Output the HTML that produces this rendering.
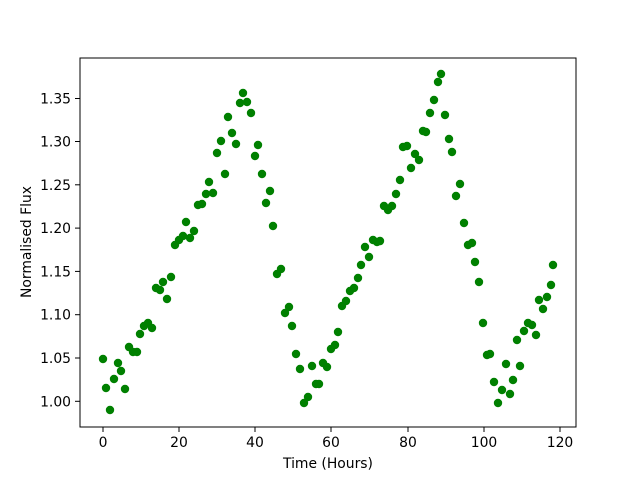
<!DOCTYPE html>
<html><head><meta charset="utf-8"><style>
html,body{margin:0;padding:0;background:#fff;}
svg text{font-family:"DejaVu Sans","Liberation Sans",sans-serif;font-size:13.9px;fill:#000;}
</style></head><body>
<svg width="640" height="480" viewBox="0 0 640 480" xmlns="http://www.w3.org/2000/svg">
<rect width="640" height="480" fill="#fff"/>
<g fill="#008000">
<circle cx="103" cy="359" r="4.2"/><circle cx="106" cy="388" r="4.2"/><circle cx="110" cy="410" r="4.2"/><circle cx="114" cy="379" r="4.2"/><circle cx="118" cy="363" r="4.2"/><circle cx="121" cy="371" r="4.2"/><circle cx="125" cy="389" r="4.2"/><circle cx="129" cy="347" r="4.2"/><circle cx="133" cy="352" r="4.2"/><circle cx="137" cy="352" r="4.2"/><circle cx="140" cy="334" r="4.2"/><circle cx="144" cy="326" r="4.2"/><circle cx="148" cy="323" r="4.2"/><circle cx="152" cy="328" r="4.2"/><circle cx="156" cy="288" r="4.2"/><circle cx="160" cy="290" r="4.2"/><circle cx="163" cy="282" r="4.2"/><circle cx="167" cy="299" r="4.2"/><circle cx="171" cy="277" r="4.2"/><circle cx="175" cy="245" r="4.2"/><circle cx="179" cy="240" r="4.2"/><circle cx="183" cy="236" r="4.2"/><circle cx="186" cy="222" r="4.2"/><circle cx="190" cy="238" r="4.2"/><circle cx="194" cy="231" r="4.2"/><circle cx="198" cy="205" r="4.2"/><circle cx="202" cy="204" r="4.2"/><circle cx="206" cy="194" r="4.2"/><circle cx="209" cy="182" r="4.2"/><circle cx="213" cy="193" r="4.2"/><circle cx="217" cy="153" r="4.2"/><circle cx="221" cy="141" r="4.2"/><circle cx="225" cy="174" r="4.2"/><circle cx="228" cy="117" r="4.2"/><circle cx="232" cy="133" r="4.2"/><circle cx="236" cy="144" r="4.2"/><circle cx="240" cy="103" r="4.2"/><circle cx="243" cy="93" r="4.2"/><circle cx="247" cy="102" r="4.2"/><circle cx="251" cy="113" r="4.2"/><circle cx="255" cy="156" r="4.2"/><circle cx="258" cy="145" r="4.2"/><circle cx="262" cy="174" r="4.2"/><circle cx="266" cy="203" r="4.2"/><circle cx="270" cy="191" r="4.2"/><circle cx="273" cy="226" r="4.2"/><circle cx="277" cy="274" r="4.2"/><circle cx="281" cy="269" r="4.2"/><circle cx="285" cy="313" r="4.2"/><circle cx="289" cy="307" r="4.2"/><circle cx="292" cy="326" r="4.2"/><circle cx="296" cy="354" r="4.2"/><circle cx="300" cy="369" r="4.2"/><circle cx="304" cy="403" r="4.2"/><circle cx="308" cy="397" r="4.2"/><circle cx="312" cy="366" r="4.2"/><circle cx="316" cy="384" r="4.2"/><circle cx="319" cy="384" r="4.2"/><circle cx="323" cy="363" r="4.2"/><circle cx="327" cy="367" r="4.2"/><circle cx="331" cy="349" r="4.2"/><circle cx="335" cy="345" r="4.2"/><circle cx="338" cy="332" r="4.2"/><circle cx="342" cy="306" r="4.2"/><circle cx="346" cy="301" r="4.2"/><circle cx="350" cy="291" r="4.2"/><circle cx="354" cy="288" r="4.2"/><circle cx="358" cy="278" r="4.2"/><circle cx="361" cy="265" r="4.2"/><circle cx="365" cy="247" r="4.2"/><circle cx="369" cy="257" r="4.2"/><circle cx="373" cy="240" r="4.2"/><circle cx="377" cy="242" r="4.2"/><circle cx="380" cy="241" r="4.2"/><circle cx="384" cy="206" r="4.2"/><circle cx="388" cy="210" r="4.2"/><circle cx="392" cy="206" r="4.2"/><circle cx="396" cy="194" r="4.2"/><circle cx="400" cy="180" r="4.2"/><circle cx="403" cy="147" r="4.2"/><circle cx="407" cy="146" r="4.2"/><circle cx="411" cy="168" r="4.2"/><circle cx="415" cy="154" r="4.2"/><circle cx="419" cy="160" r="4.2"/><circle cx="423" cy="131" r="4.2"/><circle cx="426" cy="132" r="4.2"/><circle cx="430" cy="113" r="4.2"/><circle cx="434" cy="100" r="4.2"/><circle cx="438" cy="82" r="4.2"/><circle cx="441" cy="74" r="4.2"/><circle cx="445" cy="115" r="4.2"/><circle cx="449" cy="139" r="4.2"/><circle cx="452" cy="152" r="4.2"/><circle cx="456" cy="196" r="4.2"/><circle cx="460" cy="184" r="4.2"/><circle cx="464" cy="223" r="4.2"/><circle cx="468" cy="245" r="4.2"/><circle cx="472" cy="243" r="4.2"/><circle cx="475" cy="262" r="4.2"/><circle cx="479" cy="282" r="4.2"/><circle cx="483" cy="323" r="4.2"/><circle cx="487" cy="355" r="4.2"/><circle cx="490" cy="354" r="4.2"/><circle cx="494" cy="382" r="4.2"/><circle cx="498" cy="403" r="4.2"/><circle cx="502" cy="390" r="4.2"/><circle cx="506" cy="364" r="4.2"/><circle cx="510" cy="394" r="4.2"/><circle cx="513" cy="380" r="4.2"/><circle cx="517" cy="340" r="4.2"/><circle cx="520" cy="366" r="4.2"/><circle cx="524" cy="331" r="4.2"/><circle cx="528" cy="323" r="4.2"/><circle cx="532" cy="325" r="4.2"/><circle cx="536" cy="335" r="4.2"/><circle cx="539" cy="300" r="4.2"/><circle cx="543" cy="309" r="4.2"/><circle cx="547" cy="297" r="4.2"/><circle cx="551" cy="285" r="4.2"/><circle cx="553" cy="265" r="4.2"/>
</g>
<rect x="80" y="58" width="496" height="369" fill="none" stroke="#000" stroke-width="1"/>
<g stroke="#000" stroke-width="1">
<line x1="103" y1="427" x2="103" y2="432"/><line x1="179" y1="427" x2="179" y2="432"/><line x1="255" y1="427" x2="255" y2="432"/><line x1="331" y1="427" x2="331" y2="432"/><line x1="408" y1="427" x2="408" y2="432"/><line x1="484" y1="427" x2="484" y2="432"/><line x1="560" y1="427" x2="560" y2="432"/>
<line x1="75" y1="401.3" x2="80" y2="401.3"/><line x1="75" y1="358" x2="80" y2="358"/><line x1="75" y1="314.7" x2="80" y2="314.7"/><line x1="75" y1="271.4" x2="80" y2="271.4"/><line x1="75" y1="228.1" x2="80" y2="228.1"/><line x1="75" y1="184.8" x2="80" y2="184.8"/><line x1="75" y1="141.5" x2="80" y2="141.5"/><line x1="75" y1="98.5" x2="80" y2="98.5"/>
</g>
<g text-anchor="middle">
<text x="103" y="447">0</text><text x="179" y="447">20</text><text x="255" y="447">40</text><text x="331" y="447">60</text><text x="408" y="447">80</text><text x="484" y="447">100</text><text x="560" y="447">120</text>
</g>
<g text-anchor="end">
<text x="71" y="406.3">1.00</text><text x="71" y="363">1.05</text><text x="71" y="319.7">1.10</text><text x="71" y="276.4">1.15</text><text x="71" y="233.1">1.20</text><text x="71" y="189.8">1.25</text><text x="71" y="146.5">1.30</text><text x="71" y="103.5">1.35</text>
</g>
<text x="328" y="468" text-anchor="middle">Time (Hours)</text>
<text x="0" y="0" text-anchor="middle" transform="translate(31,242) rotate(-90)">Normalised Flux</text>
</svg>
</body></html>
